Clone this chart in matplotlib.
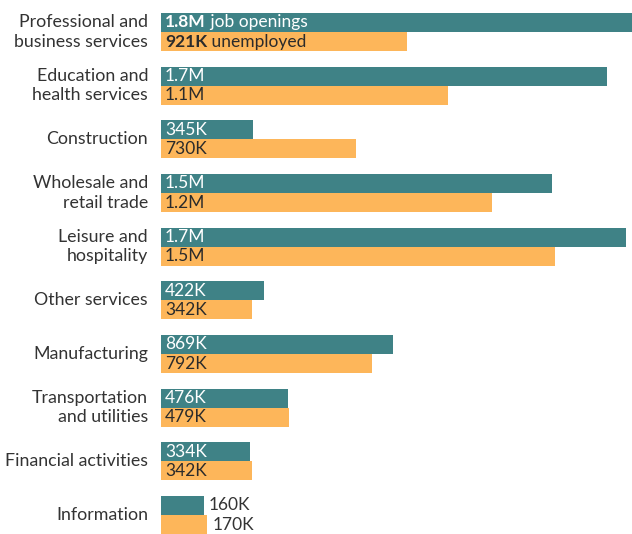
import matplotlib.pyplot as plt
import numpy as np

plt.rcParams['font.family'] = ['Lato', 'DejaVu Sans']

categorias = ['Professional and\nbusiness services', 'Education and\nhealth services', 'Construction',
              'Wholesale and\nretail trade', 'Leisure and\nhospitality', 'Other services', 'Manufacturing',
              'Transportation\nand utilities', 'Financial activities', 'Information']
vacantes = [1800, 1670, 345, 1465, 1740, 386, 869, 476, 334, 160]  # miles
desempleados = [921, 1075, 730, 1240, 1476, 342, 790, 479, 342, 172]
etiq_vacantes = ['1.8M', '1.7M', '345K', '1.5M', '1.7M', '422K', '869K', '476K', '334K', '160K']
etiq_desemp = ['921K', '1.1M', '730K', '1.2M', '1.5M', '342K', '792K', '479K', '342K', '170K']

teal = '#3f8286'
naranja = '#fdb65a'
y = np.arange(len(categorias))
h = 0.355

fig = plt.figure(figsize=(6.32, 5.34), dpi=100)
ax = fig.add_axes([161 / 632, 0, 1 - 161 / 632, 1])
ax.barh(y - h / 2, vacantes, height=h, color=teal)
ax.barh(y + h / 2, desempleados, height=h, color=naranja)
ax.set_xlim(0, 471 / 0.267)
ax.set_ylim(9 + 19 / 53.7, -32 / 53.7)
ax.axis('off')

fs = 12.5
for i in range(len(categorias)):
    ax.text(-13 / 0.267, i, categorias[i], ha='right', va='center', fontsize=12.8,
            color='#333333', linespacing=1.25)
    if vacantes[i] < 200:
        x1, x2, c1, c2 = vacantes[i] + 20, desempleados[i] + 20, '#333333', '#333333'
    else:
        x1, x2, c1, c2 = 15, 15, 'white', '#2b2b2b'
    if i == 0:
        t1 = ax.text(x1, y[i] - h / 2, etiq_vacantes[i], ha='left', va='center', fontsize=fs,
                     color=c1, fontweight='bold')
        ax.annotate(' job openings', xy=(1, 0.5), xycoords=t1, ha='left', va='center',
                    fontsize=fs, color=c1)
        t2 = ax.text(x2, y[i] + h / 2, etiq_desemp[i], ha='left', va='center', fontsize=fs,
                     color=c2, fontweight='bold')
        ax.annotate(' unemployed', xy=(1, 0.5), xycoords=t2, ha='left', va='center',
                    fontsize=fs, color=c2)
    else:
        ax.text(x1, y[i] - h / 2, etiq_vacantes[i], ha='left', va='center', fontsize=fs, color=c1)
        ax.text(x2, y[i] + h / 2, etiq_desemp[i], ha='left', va='center', fontsize=fs, color=c2)

fig.savefig('out.png', dpi=100)
